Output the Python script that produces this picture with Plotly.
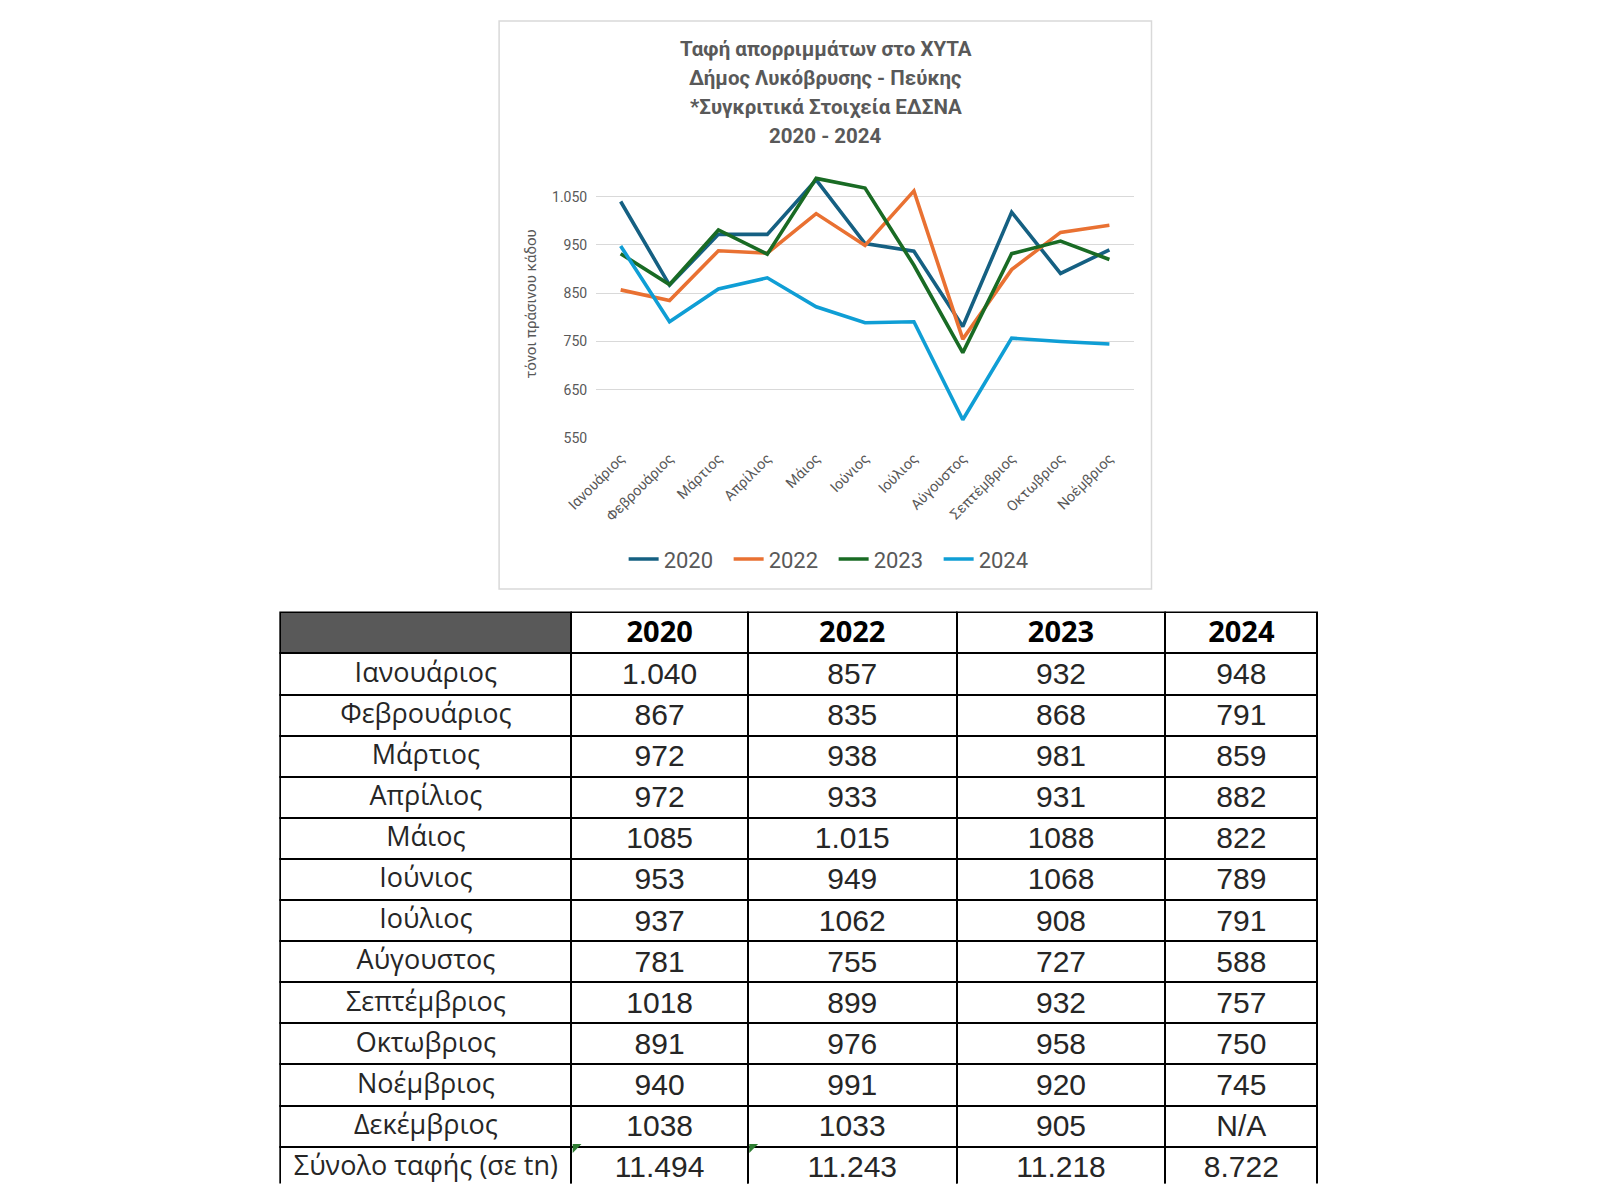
import plotly.graph_objects as go

OFF = 8
W, H = 1584, 1184

months_chart = ["Ιανουάριος", "Φεβρουάριος", "Μάρτιος", "Απρίλιος", "Μάιος", "Ιούνιος",
                "Ιούλιος", "Αύγουστος", "Σεπτέμβριος", "Οκτωβριος", "Νοέμβριος"]
years = ["2020", "2022", "2023", "2024"]
v2020 = [1040, 867, 972, 972, 1085, 953, 937, 781, 1018, 891, 940]
v2022 = [857, 835, 938, 933, 1015, 949, 1062, 755, 899, 976, 991]
v2023 = [932, 868, 981, 931, 1088, 1068, 908, 727, 932, 958, 920]
v2024 = [948, 791, 859, 882, 822, 789, 791, 588, 757, 750, 745]
colors = ["#156082", "#E97132", "#196B24", "#0F9ED5"]

y_ticks = [550, 650, 750, 850, 950, 1050]
y_ticktext = ["550", "650", "750", "850", "950", "1.050"]

title_lines = ["Ταφή απορριμμάτων στο ΧΥΤΑ", "Δήμος Λυκόβρυσης - Πεύκης",
               "*Συγκριτικά Στοιχεία ΕΔΣΝΑ", "2020 - 2024"]

table_rows = ["Ιανουάριος", "Φεβρουάριος", "Μάρτιος", "Απρίλιος", "Μάιος", "Ιούνιος",
              "Ιούλιος", "Αύγουστος", "Σεπτέμβριος", "Οκτωβριος", "Νοέμβριος", "Δεκέμβριος",
              "Σύνολο ταφής (σε tn)"]
t2020 = ["1.040", "867", "972", "972", "1085", "953", "937", "781", "1018", "891", "940", "1038", "11.494"]
t2022 = ["857", "835", "938", "933", "1.015", "949", "1062", "755", "899", "976", "991", "1033", "11.243"]
t2023 = ["932", "868", "981", "931", "1088", "1068", "908", "727", "932", "958", "920", "905", "11.218"]
t2024 = ["948", "791", "859", "882", "822", "789", "791", "588", "757", "750", "745", "N/A", "8.722"]


def px(x):
    return (x - OFF) / W


def py(y):
    return 1 - (y - OFF) / H


fig = go.Figure()

for name, vals, c in zip(years, [v2020, v2022, v2023, v2024], colors):
    fig.add_trace(go.Scatter(x=months_chart, y=vals, name=name, mode="lines",
                             line=dict(color=c, width=3.6), xaxis="x", yaxis="y"))

col_edges = [255, 552, 732, 945, 1158, 1313]
col_w = [col_edges[i + 1] - col_edges[i] for i in range(5)]
TABLE_TOP = 616.5
ROW_H = 41.1
num_font = "Liberation Sans, Arial, sans-serif"
fig.add_trace(go.Table(
    domain=dict(x=[px(col_edges[0]), px(col_edges[-1])], y=[0, py(TABLE_TOP)]),
    columnwidth=col_w,
    header=dict(values=[""] + years,
                fill_color=["#595959", "white", "white", "white", "white"],
                line=dict(color="black", width=2),
                align="center", height=ROW_H,
                font=dict(family="Open Sans, sans-serif", size=29, color="black", weight="bold")),
    cells=dict(values=[table_rows, t2020, t2022, t2023, t2024],
               fill_color="white",
               line=dict(color="black", width=2),
               align="center", height=ROW_H,
               font=dict(family=["Open Sans, sans-serif"] + [num_font] * 4,
                         size=[27, 30, 30, 30, 30], color="#262626")),
))

annotations = []
for i, t in enumerate(title_lines):
    annotations.append(dict(text="<b>%s</b>" % t, x=px(811), y=py(48.8 + i * 29.4), xref="paper", yref="paper",
                            showarrow=False, xanchor="center", yanchor="middle",
                            font=dict(family="Roboto, sans-serif", size=20.5, color="#595959")))
annotations.append(dict(text="τόνοι πράσινου κάδου", x=px(511), y=py(306), xref="paper", yref="paper",
                        showarrow=False, textangle=-90, xanchor="center", yanchor="middle",
                        font=dict(family="Roboto, sans-serif", size=15, color="#595959")))

shapes = [dict(type="rect", xref="paper", yref="paper", x0=px(478), x1=px(1143), y0=py(593), y1=py(21),
               line=dict(color="#D9D9D9", width=1.5), fillcolor="rgba(0,0,0,0)", layer="below")]
# small green Excel error markers in the total row (2020 and 2022 cells)
total_top = TABLE_TOP + ROW_H * 13 + 1
for x0 in (col_edges[1] + 1, col_edges[2] + 1):
    shapes.append(dict(type="path", xref="paper", yref="paper",
                       path="M %f %f L %f %f L %f %f Z" % (px(x0), py(total_top), px(x0 + 9), py(total_top),
                                                         px(x0), py(total_top + 9)),
                       fillcolor="#2E7D32", line=dict(width=0)))

fig.update_layout(
    width=W, height=H, margin=dict(l=0, r=0, t=0, b=0),
    paper_bgcolor="white", plot_bgcolor="white",
    showlegend=True,
    legend=dict(orientation="h", x=px(819), y=py(563), xanchor="center", yanchor="middle",
                font=dict(family="Roboto, sans-serif", size=22, color="#595959"),
                bgcolor="rgba(0,0,0,0)", itemwidth=30, entrywidth=60, entrywidthmode="pixels"),
    xaxis=dict(domain=[px(577), px(1125)], range=[-0.5, 10.5], tickangle=-45,
               showgrid=False, showline=False, ticks="", anchor="y", ticklabelstandoff=8,
               tickfont=dict(family="Roboto, sans-serif", size=14.5, color="#595959")),
    yaxis=dict(domain=[py(441), py(176.6)], range=[550, 1094], tickvals=y_ticks, ticktext=y_ticktext,
               showgrid=True, gridcolor="#D9D9D9", gridwidth=1.2, zeroline=False, showline=False,
               ticks="", anchor="x", ticklabelstandoff=8,
               tickfont=dict(family="Roboto, sans-serif", size=14, color="#595959")),
    annotations=annotations, shapes=shapes,
)

fig.write_html("out.html")
